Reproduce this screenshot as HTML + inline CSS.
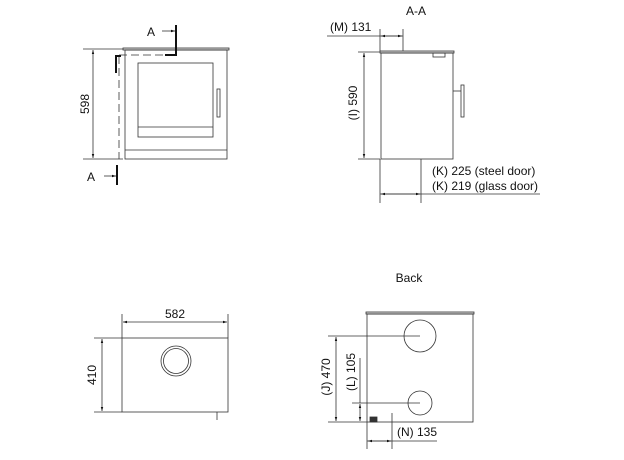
<!DOCTYPE html>
<html><head><meta charset="utf-8"><style>
html,body{margin:0;padding:0;background:#fff;width:624px;height:460px;overflow:hidden}
text{font-family:"Liberation Sans",sans-serif;font-size:12px;fill:#111}
</style></head><body>
<svg width="624" height="460" viewBox="0 0 624 460" xmlns="http://www.w3.org/2000/svg">
<defs>
<marker id="a" viewBox="0 0 10 10" refX="10" refY="5" markerWidth="7" markerHeight="5" orient="auto-start-reverse"><path d="M0,2 L10,5 L0,8z" fill="#111"/></marker>
</defs>
<g stroke="#333" stroke-width="0.8" fill="none">
<!-- Front view -->
<rect x="123" y="48" width="106" height="2" fill="#ddd"/>
<rect x="125" y="50" width="102" height="109"/>
<line x1="125" y1="150" x2="227" y2="150"/>
<rect x="138" y="63" width="75" height="74"/>
<line x1="138" y1="127" x2="213" y2="127"/>
<rect x="217" y="89" width="3" height="28"/>
<line x1="83" y1="49" x2="123" y2="49"/>
<line x1="83" y1="159" x2="123" y2="159"/>
<line x1="93" y1="50" x2="93" y2="158" marker-start="url(#a)" marker-end="url(#a)"/>
<line x1="119" y1="56" x2="119" y2="159" stroke-dasharray="8,4"/>
<line x1="119" y1="55" x2="170" y2="55" stroke-dasharray="8,4"/>
<path d="M116,73 L116,56 L121,56" stroke="#111" stroke-width="2"/>
<path d="M165,55 L176,55 L176,25" stroke="#111" stroke-width="2"/>
<line x1="162" y1="31" x2="175" y2="31" marker-end="url(#a)"/>
<line x1="117" y1="165" x2="117" y2="185" stroke="#111" stroke-width="2"/>
<line x1="104" y1="176" x2="116" y2="176" marker-end="url(#a)"/>
<!-- Section A-A -->
<rect x="380" y="51" width="74" height="2" fill="#ddd"/>
<rect x="381" y="53" width="72" height="106"/>
<rect x="433" y="53" width="12" height="4"/>
<rect x="461" y="85" width="3" height="32"/>
<line x1="453" y1="91" x2="461" y2="91"/>
<line x1="358" y1="52" x2="380" y2="52"/>
<line x1="358" y1="159" x2="380" y2="159"/>
<line x1="364" y1="53" x2="364" y2="158" marker-start="url(#a)" marker-end="url(#a)"/>
<line x1="327" y1="36" x2="403" y2="36"/>
<line x1="380" y1="29" x2="380" y2="51"/>
<line x1="403" y1="29" x2="403" y2="51"/>
<line x1="381" y1="36" x2="402" y2="36" marker-start="url(#a)" marker-end="url(#a)"/>
<line x1="380" y1="159" x2="380" y2="203"/>
<line x1="421" y1="159" x2="421" y2="203"/>
<line x1="380" y1="194" x2="540" y2="194"/>
<line x1="381" y1="194" x2="420" y2="194" marker-start="url(#a)" marker-end="url(#a)"/>
<!-- Top view -->
<rect x="122" y="338" width="106" height="74"/>
<circle cx="176" cy="361" r="15"/>
<circle cx="176" cy="361" r="12.5"/>
<line x1="217" y1="412" x2="217" y2="420"/>
<line x1="122" y1="314" x2="122" y2="338"/>
<line x1="228" y1="314" x2="228" y2="338"/>
<line x1="123" y1="322" x2="227" y2="322" marker-start="url(#a)" marker-end="url(#a)"/>
<line x1="94" y1="338" x2="122" y2="338"/>
<line x1="94" y1="412" x2="122" y2="412"/>
<line x1="102" y1="339" x2="102" y2="411" marker-start="url(#a)" marker-end="url(#a)"/>
<!-- Back view -->
<rect x="366" y="312" width="108" height="2" fill="#ddd"/>
<rect x="367" y="314" width="106" height="108"/>
<circle cx="420" cy="336" r="16"/>
<circle cx="420" cy="403" r="12"/>
<rect x="370" y="417" width="7" height="5" fill="#333"/>
<line x1="328" y1="336" x2="420" y2="336"/>
<line x1="328" y1="422" x2="367" y2="422"/>
<line x1="336" y1="337" x2="336" y2="421" marker-start="url(#a)" marker-end="url(#a)"/>
<line x1="352" y1="403" x2="420" y2="403"/>
<line x1="360" y1="358" x2="360" y2="403"/>
<line x1="360" y1="404" x2="360" y2="421" marker-start="url(#a)" marker-end="url(#a)"/>
<line x1="367" y1="422" x2="367" y2="449"/>
<line x1="392" y1="413" x2="392" y2="449"/>
<line x1="367" y1="441" x2="437" y2="441"/>
<line x1="368" y1="441" x2="391" y2="441" marker-start="url(#a)" marker-end="url(#a)"/>
</g>
<text x="147" y="36">A</text>
<text x="87" y="181">A</text>
<text transform="translate(89,104) rotate(-90)" text-anchor="middle">598</text>
<text x="416" y="15" text-anchor="middle">A-A</text>
<text x="330" y="31">(M) 131</text>
<text transform="translate(357,103) rotate(-90)" text-anchor="middle">(I) 590</text>
<text x="432" y="175">(K) 225 (steel door)</text>
<text x="432" y="190">(K) 219 (glass door)</text>
<text x="175" y="318" text-anchor="middle">582</text>
<text transform="translate(96,375) rotate(-90)" text-anchor="middle">410</text>
<text x="409" y="282" text-anchor="middle">Back</text>
<text transform="translate(330,377) rotate(-90)" text-anchor="middle">(J) 470</text>
<text transform="translate(355,372) rotate(-90)" text-anchor="middle">(L) 105</text>
<text x="397" y="436">(N) 135</text>
</svg>
</body></html>
